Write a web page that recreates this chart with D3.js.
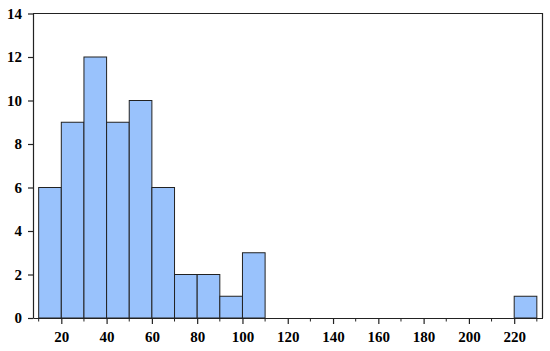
<!DOCTYPE html>
<html>
<head>
<meta charset="utf-8">
<script src="https://cdn.jsdelivr.net/npm/d3@7"></script>
<style>
  body { margin: 0; background: #fff; }
</style>
</head>
<body>
<div id="chart"></div>
<script>
// bin edges (width 10) and counts
const binStarts = [10, 20, 30, 40, 50, 60, 70, 80, 90, 100, 110, 120, 130, 140, 150, 160, 170, 180, 190, 200, 210, 220];
const counts    = [6, 9, 12, 9, 10, 6, 2, 2, 1, 3, 0, 0, 0, 0, 0, 0, 0, 0, 0, 0, 0, 1];
const xTicks = [20, 40, 60, 80, 100, 120, 140, 160, 180, 200, 220];
const yTicks = [0, 2, 4, 6, 8, 10, 12, 14];

const W = 550, H = 351;
const plot = { left: 33, right: 542.5, top: 13.5, bottom: 318 };
const labelFont = "'Liberation Serif', 'Times New Roman', serif";

const svg = d3.select("#chart").append("svg")
    .attr("width", W)
    .attr("height", H);

const x = d3.scaleLinear().domain([7.5, 232.5]).range([plot.left, plot.right]);
const y = d3.scaleLinear().domain([0, 14]).range([plot.bottom, plot.top]);

const bins = binStarts.map((s, i) => ({ x0: s, x1: s + 10, n: counts[i] }));

// bars
svg.append("g")
    .selectAll("rect")
    .data(bins.filter(d => d.n > 0))
    .enter()
    .append("rect")
    .attr("x", d => x(d.x0))
    .attr("y", d => y(d.n))
    .attr("width", d => x(d.x1) - x(d.x0))
    .attr("height", d => y(0) - y(d.n))
    .attr("fill", "#99c2fc")
    .attr("stroke", "#222")
    .attr("stroke-width", 1);

// frame (top and right)
svg.append("path")
    .attr("d", `M${plot.left},${plot.top}H${plot.right}V${plot.bottom}`)
    .attr("fill", "none")
    .attr("stroke", "#222")
    .attr("stroke-width", 1.2);

// y axis
const yAxis = d3.axisLeft(y).tickValues(yTicks).tickSize(5).tickPadding(6).tickSizeOuter(0);
svg.append("g")
    .attr("class", "axis")
    .attr("transform", `translate(${plot.left},0)`)
    .call(yAxis);

// x axis: labelled ticks every 20, small ticks in between
const xAxis = d3.axisBottom(x).tickValues(xTicks).tickSize(6).tickPadding(7).tickSizeOuter(0);
const gx = svg.append("g")
    .attr("class", "axis")
    .attr("transform", `translate(0,${plot.bottom})`)
    .call(xAxis);

gx.selectAll(".minor")
    .data(d3.range(10, 231, 20))
    .enter()
    .append("line")
    .attr("class", "minor")
    .attr("x1", d => x(d)).attr("x2", d => x(d))
    .attr("y1", 0).attr("y2", 3.5)
    .attr("stroke", "#222");

svg.selectAll(".axis")
    .attr("font-family", labelFont)
    .attr("font-size", 15)
    .attr("font-weight", "bold");
svg.selectAll(".domain, .tick line").attr("stroke", "#222").attr("stroke-width", 1.2);
svg.selectAll(".tick text")
    .attr("fill", "#000")
    .style("font-family", labelFont)
    .style("font-weight", "bold");
</script>
</body>
</html>
